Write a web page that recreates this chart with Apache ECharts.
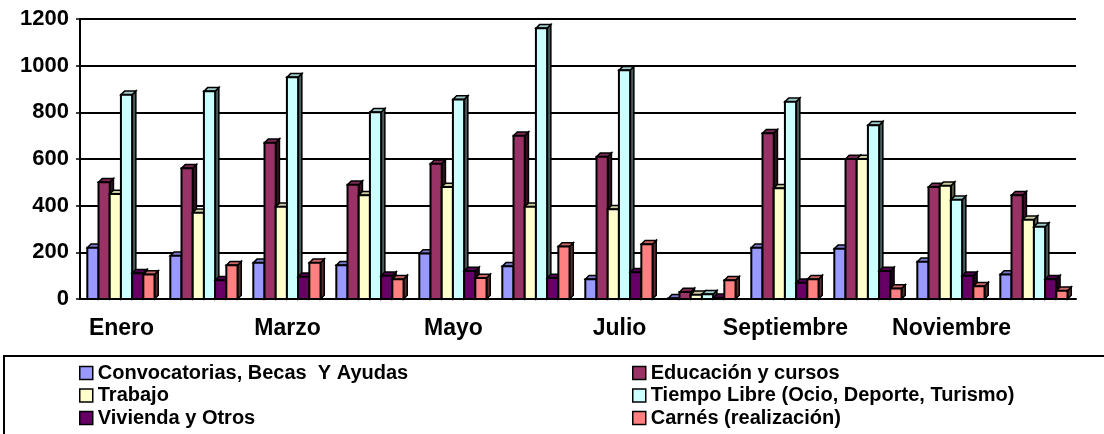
<!DOCTYPE html>
<html>
<head>
<meta charset="utf-8">
<script src="https://cdn.jsdelivr.net/npm/echarts@6/dist/echarts.min.js"></script>
<style>
  html, body { margin: 0; padding: 0; background: #fff; }
  #main { width: 1104px; height: 434px; }
</style>
</head>
<body>
<div id="main"></div>
<script>
var meses = ['Enero', 'Febrero', 'Marzo', 'Abril', 'Mayo', 'Junio', 'Julio', 'Agosto', 'Septiembre', 'Octubre', 'Noviembre', 'Diciembre'];

var convocatorias = [220, 185, 155, 145, 195, 140, 85, 3, 220, 215, 160, 105];
var educacion     = [500, 560, 670, 490, 580, 700, 610, 30, 710, 600, 480, 445];
var trabajo       = [450, 370, 395, 445, 480, 395, 385, 18, 475, 600, 485, 340];
var tiempoLibre   = [875, 890, 950, 800, 855, 1160, 980, 20, 845, 745, 425, 310];
var vivienda      = [110, 80, 95, 100, 120, 90, 115, 5, 70, 120, 100, 85];
var carnes        = [105, 145, 155, 85, 90, 225, 235, 80, 85, 45, 55, 35];

var yTicks = { min: 0, max: 1200, interval: 200 };

var series = [
  { name: 'Convocatorias, Becas  Y Ayudas', data: convocatorias, color: '#9999FF' },
  { name: 'Educación y cursos', data: educacion, color: '#993366' },
  { name: 'Trabajo', data: trabajo, color: '#FFFFCC' },
  { name: 'Tiempo Libre (Ocio, Deporte, Turismo)', data: tiempoLibre, color: '#CCFFFF' },
  { name: 'Vivienda y Otros', data: vivienda, color: '#660066' },
  { name: 'Carnés (realización)', data: carnes, color: '#FF8080' }
];

// darker shade for the side face of the 3d bar
function shade(hex, f) {
  var n = parseInt(hex.slice(1), 16);
  var r = Math.round(((n >> 16) & 255) * f);
  var g = Math.round(((n >> 8) & 255) * f);
  var b = Math.round((n & 255) * f);
  return 'rgb(' + r + ',' + g + ',' + b + ')';
}

function bar3d(idx, color) {
  return function (params, api) {
    var catW = api.size([1, 0])[0];
    var base = api.coord([api.value(0), 0]);
    var top = api.coord([api.value(0), api.value(1)]);
    var w = catW * 0.135;
    var d = catW * 0.045;
    var x = base[0] - catW / 2 + catW * 0.088 + idx * w;
    var yb = base[1], yt = top[1];
    var line = { stroke: '#000', lineWidth: 1.5 };
    return {
      type: 'group',
      children: [
        { type: 'polygon', shape: { points: [[x + w, yt], [x + w + d, yt - d], [x + w + d, yb - d], [x + w, yb]] },
          style: Object.assign({ fill: shade(color, 0.35) }, line) },
        { type: 'polygon', shape: { points: [[x, yt], [x + d, yt - d], [x + w + d, yt - d], [x + w, yt]] },
          style: Object.assign({ fill: shade(color, 0.8) }, line) },
        { type: 'rect', shape: { x: x, y: yt, width: w, height: yb - yt },
          style: { fill: color, stroke: '#000', lineWidth: 2 } }
      ]
    };
  };
}

var font = 'Liberation Sans, Arial, sans-serif';

var legendCommon = {
  orient: 'vertical',
  padding: 0,
  top: 363,
  itemWidth: 13,
  itemHeight: 13,
  itemGap: 2.5,
  icon: 'rect',
  itemStyle: { borderColor: '#000', borderWidth: 1.5 },
  textStyle: { fontFamily: font, fontWeight: 'bold', fontSize: 20, color: '#000' }
};

var myChart = echarts.init(document.getElementById('main'), null, { renderer: 'canvas' });
myChart.setOption({
  animation: false,
  backgroundColor: '#fff',
  grid: { left: 80, right: 28, top: 19, bottom: 135 },
  legend: [
    Object.assign({ left: 79, data: [series[0].name, series[2].name, series[4].name] }, legendCommon),
    Object.assign({ left: 632, data: [series[1].name, series[3].name, series[5].name] }, legendCommon)
  ],
  graphic: [
    { type: 'rect', shape: { x: 4, y: 356, width: 1120, height: 100 },
      style: { fill: 'none', stroke: '#000', lineWidth: 2 } }
  ],
  xAxis: {
    type: 'category',
    data: meses,
    axisLine: { lineStyle: { color: '#000', width: 2 } },
    axisTick: { interval: 0, length: 5, lineStyle: { color: '#000', width: 1.5 } },
    axisLabel: { interval: 1, margin: 18, fontFamily: font, fontWeight: 'bold', fontSize: 23, color: '#000' }
  },
  yAxis: {
    type: 'value',
    min: yTicks.min,
    max: yTicks.max,
    interval: yTicks.interval,
    axisLine: { show: true, lineStyle: { color: '#000', width: 2 } },
    axisTick: { show: true, length: 4, lineStyle: { color: '#000', width: 1.5 } },
    axisLabel: {
      margin: 11, fontFamily: font, fontWeight: 'bold', fontSize: 22, color: '#000',
      formatter: function (v) { return String(v); }
    },
    splitLine: { lineStyle: { color: '#000', width: 2 } }
  },
  series: series.map(function (s, i) {
    return {
      name: s.name,
      type: 'custom',
      renderItem: bar3d(i, s.color),
      itemStyle: { color: s.color, borderColor: '#000', borderWidth: 1.5 },
      encode: { x: 0, y: 1 },
      data: s.data.map(function (v, j) { return [j, v]; })
    };
  })
});
</script>
</body>
</html>
